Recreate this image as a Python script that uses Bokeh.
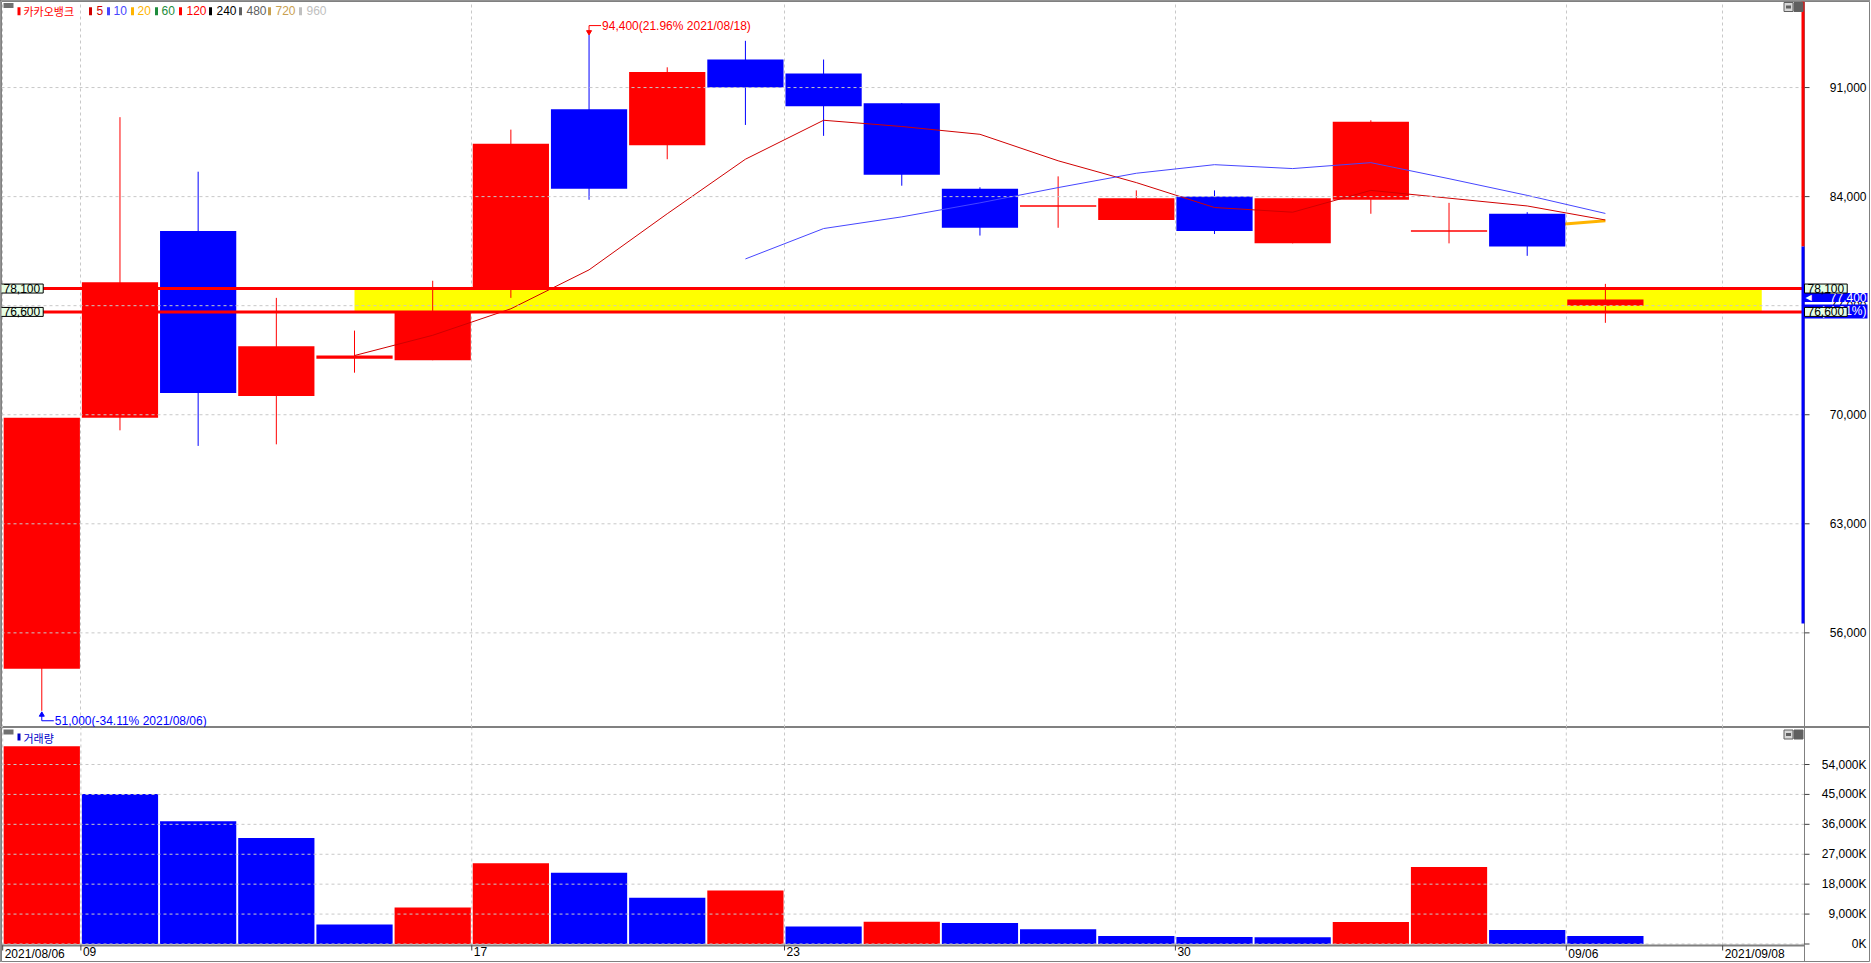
import math
from bokeh.plotting import figure
from bokeh.models import Range1d, FixedTicker, Label, Grid
from bokeh.layouts import column
from bokeh.embed import file_html
from bokeh.resources import INLINE

NAN = float("nan")

# ---------------- data ----------------
stock_name = "카카오뱅크"
volume_name = "거래량"
dates = ["2021/08/06", "2021/08/09", "2021/08/10", "2021/08/11", "2021/08/12", "2021/08/13",
         "2021/08/17", "2021/08/18", "2021/08/19", "2021/08/20", "2021/08/23", "2021/08/24",
         "2021/08/25", "2021/08/26", "2021/08/27", "2021/08/30", "2021/08/31", "2021/09/01",
         "2021/09/02", "2021/09/03", "2021/09/06"]
future_dates = ["2021/09/07", "2021/09/08"]
opens = [53700, 69800, 81800, 71200, 73600, 73500, 78100, 89600, 87300, 92800, 91900, 90000,
         84500, 83400, 82500, 84000, 81000, 83800, 81800, 82900, 77000]
highs = [69800, 89100, 85600, 77500, 75400, 78600, 88300, 94400, 92300, 94000, 92800, 90000,
         84600, 85300, 84400, 84400, 83900, 88900, 83600, 83000, 78400]
lows = [51000, 69000, 68000, 68100, 72700, 73500, 77500, 83800, 86400, 88600, 87900, 84700,
        81500, 82000, 82500, 81600, 81000, 82900, 81000, 80200, 75900]
closes = [69800, 78500, 71400, 74400, 73800, 76600, 87400, 84500, 92000, 91000, 89800, 85400,
          82000, 83400, 83900, 81800, 83900, 88800, 81800, 80800, 77400]
volumes_k = [59500, 45100, 36900, 31900, 5900, 11000, 24300, 21400, 13900, 16100, 5300, 6700,
             6300, 4400, 2400, 2100, 2000, 6600, 23200, 4200, 2400]
ma5 = [NAN, NAN, NAN, NAN, 73800, 75100, 76800, 79300, 82900, 86400, 88900, 88500, 88000,
       86300, 84900, 83300, 83000, 84400, 83900, 83400, 82500]
ma10 = [NAN] * 9 + [80000, 81950, 82700, 83600, 84580, 85500, 86050, 85800, 86180, 85150,
                    84080, 82920]
ma20 = [NAN] * 19 + [82050, 82450]
ma_periods = ["5", "10", "20", "60", "120", "240", "480", "720", "960"]
level_high = 78100
level_low = 76600
band_start = "2021/08/12"
band_end = "2021/09/08"
range_bar_low = 56600
price_ticks = [56000, 63000, 70000, 77000, 84000, 91000]
volume_ticks = [0, 9000, 18000, 27000, 36000, 45000, 54000]
date_ticks = ["2021/08/06", "2021/08/09", "2021/08/17", "2021/08/23", "2021/08/30",
              "2021/09/06", "2021/09/08"]
date_tick_labels = ["2021/08/06", "09", "17", "23", "30", "09/06", "2021/09/08"]

# ---------------- styles / layout ----------------
RED = "#ff0000"
BLUE = "#0000ff"
GRID = "#c8c8c8"
FRAME = "#808080"
TICK = "#404040"
FONT = "Liberation Sans"
KFONT = "Noto Sans CJK KR"
ma_colors = ["#d00000", "#4646ff", "#ffb400", "#1e8c3c", "#ff0000", "#000000", "#606060",
             "#c8a050", "#c0c0c0"]
legend_bar_x = [90, 108, 132, 156, 180, 210, 240, 269, 300]
legend_text_x = [96, 113, 137, 161, 186, 216, 246, 275, 306]

W = 1870          # canvas width (px)
P_H = 727         # price panel height
V_H = 235         # volume panel height (incl. date strip)
AXIS_X = 1804     # page x of the right scale line
SLOT = 78.18      # px per trading day
PX_PER_K = 15.58  # price px per 1000 won
VPX_PER_K = 3.324  # volume px per 1000K


def rx(px):
    return (px - 2.2) / SLOT - 0.5


def ry(py):
    return 91000 - (py - 87.06) / PX_PER_K * 1000


def rv(py):
    return (943.5 - py) / VPX_PER_K * 1000


X0, X1, X1E = rx(1), rx(AXIS_X), rx(W)
PY0, PY1 = ry(P_H), ry(1)
VY0, VY1 = rv(P_H + V_H), rv(P_H)
VA = rv(945)               # date axis line
dxpp = 1 / SLOT
dypp = 1000 / PX_PER_K
dvpp = 1000 / VPX_PER_K
SCALE_W = W - AXIS_X

all_dates = dates + future_dates
pos = {d: i for i, d in enumerate(all_dates)}
xi = list(range(len(dates)))
boundaries = [pos[d] - 0.5 for d in date_ticks]


def scale_axis(fig, ticks, labels, y_lo, y_hi):
    # right-hand scale: grid lines, axis line, tick marks and right aligned labels
    fig.segment(x0=[X0] * len(ticks), x1=[X1] * len(ticks), y0=ticks, y1=ticks,
                line_color=GRID, line_width=1, line_dash="3 3")
    fig.segment(x0=[X1], x1=[X1], y0=[y_lo], y1=[y_hi], line_color=FRAME, line_width=1)
    fig.segment(x0=[X1] * len(ticks), x1=[X1 + 5 * dxpp] * len(ticks), y0=ticks, y1=ticks,
                line_color=TICK, line_width=1)
    for t, lab in zip(ticks, labels):
        fig.add_layout(Label(x=X1, y=t, x_offset=SCALE_W - 4, text=lab, text_font=FONT,
                             text_font_size="12px", text_color="#000000",
                             text_baseline="middle", text_align="right"))


# ================= price panel =================
p = figure(width=W, height=P_H, x_range=Range1d(X0, X1E), y_range=Range1d(PY0, PY1),
           x_axis_location=None, y_axis_location=None, toolbar_location=None,
           output_backend="svg", min_border_left=1, min_border_right=0,
           min_border_top=1, min_border_bottom=0)
p.outline_line_color = FRAME
p.background_fill_color = "white"
p.border_fill_color = "white"
p.grid.visible = False
p.add_layout(Grid(dimension=0, ticker=FixedTicker(ticks=boundaries), grid_line_color=GRID,
                  grid_line_dash="3 3", grid_line_width=1))

# gap band
p.quad(left=pos[band_start], right=pos[band_end], bottom=level_low, top=level_high,
       fill_color="#ffff00", line_color=None)

# 20-day average below candles
p.line(list(range(len(ma20))), ma20, line_color=ma_colors[2], line_width=3)

up = [c >= o for o, c in zip(opens, closes)]
ccol = [RED if u else BLUE for u in up]
p.segment(x0=xi, y0=lows, x1=xi, y1=highs, line_color=ccol, line_width=1)
p.vbar(x=xi, width=0.975, top=[max(o, c) for o, c in zip(opens, closes)],
       bottom=[min(o, c) for o, c in zip(opens, closes)], fill_color=ccol, line_color=None)
doji = [i for i in xi if opens[i] == closes[i]]
p.segment(x0=[i - 0.4875 for i in doji], x1=[i + 0.4875 for i in doji],
          y0=[opens[i] for i in doji], y1=[closes[i] for i in doji],
          line_color=[ccol[i] for i in doji], line_width=1.5)

p.line(list(range(len(ma5))), ma5, line_color=ma_colors[0], line_width=1)
p.line(list(range(len(ma10))), ma10, line_color=ma_colors[1], line_width=1)

# horizontal level lines across the chart area
p.segment(x0=[X0, X0], x1=[X1, X1], y0=[level_high, level_low], y1=[level_high, level_low],
          line_color=RED, line_width=3)

# right-hand scale
scale_axis(p, price_ticks, [f"{t:,}" for t in price_ticks], PY0, PY1)

# price range bar on the right edge of the chart area
prev_close = closes[-2]
bx = X1 - 1.5 * dxpp
p.segment(x0=[bx, bx], x1=[bx, bx], y0=[prev_close, range_bar_low], y1=[PY1, prev_close],
          line_color=[RED, BLUE], line_width=3)

# high / low markers
last_close = closes[-1]
hi = max(highs)
hi_i = highs.index(hi)
lo = min(lows)
lo_i = lows.index(lo)
hi_pct = (hi / last_close - 1) * 100
lo_pct = (lo / last_close - 1) * 100
p.line([hi_i, hi_i, hi_i + 12 * dxpp], [hi + 1 * dypp, hi + 9 * dypp, hi + 9 * dypp],
       line_color=RED, line_width=1)
p.scatter([hi_i], [hi + 2.5 * dypp], marker="inverted_triangle", size=5, color=RED)
p.add_layout(Label(x=hi_i, y=hi, x_offset=13, y_offset=9,
                   text=f"{hi:,}({hi_pct:.2f}% {dates[hi_i]})",
                   text_font=FONT, text_font_size="12px", text_color=RED,
                   text_baseline="middle", text_align="left"))
p.line([lo_i, lo_i, lo_i + 12 * dxpp], [lo - 3 * dypp, lo - 10 * dypp, lo - 10 * dypp],
       line_color=BLUE, line_width=1)
p.scatter([lo_i], [lo - 4 * dypp], marker="triangle", size=5, color=BLUE)
p.add_layout(Label(x=lo_i, y=lo, x_offset=13, y_offset=-10,
                   text=f"{lo:,}({lo_pct:.2f}% {dates[lo_i]})",
                   text_font=FONT, text_font_size="12px", text_color=BLUE,
                   text_baseline="middle", text_align="left"))

# legend
p.rect(x=[rx(8)], y=[ry(5)], width=10, height=5, width_units="screen", height_units="screen",
       fill_color="#707070", line_color=None)
p.rect(x=[rx(18.5)] + [rx(v) for v in legend_bar_x], y=[ry(10.7)] * (1 + len(legend_bar_x)),
       width=3, height=8, width_units="screen", height_units="screen",
       fill_color=[RED] + ma_colors, line_color=None)
p.add_layout(Label(x=rx(23), y=ry(10), text=stock_name, text_font=KFONT, text_font_size="11px",
                   text_color=RED, text_baseline="middle", text_align="left"))
for name, tx, col in zip(ma_periods, legend_text_x, ma_colors):
    p.add_layout(Label(x=rx(tx), y=ry(10), text=name, text_font=FONT, text_font_size="12px",
                       text_color=col, text_baseline="middle", text_align="left"))

# panel icons (top right)
p.rect(x=[rx(1788), rx(1798)], y=[ry(6.5), ry(6.5)], width=9, height=9, width_units="screen",
       height_units="screen", fill_color=["#d8d8d8", "#606060"], line_color="#606060")
p.rect(x=[rx(1788)], y=[ry(6.5)], width=5, height=3, width_units="screen",
       height_units="screen", fill_color="#606060", line_color=None)

# current price tag and level labels (left and right); padding = (left, right, top, bottom)
chg = (last_close / prev_close - 1) * 100
p.add_layout(Label(x=X1, y=last_close, x_offset=SCALE_W - 3, y_offset=2, text=f"{last_close:,}",
                   text_font=FONT, text_font_size="12px", text_color="white",
                   text_baseline="middle", text_align="right", background_fill_color=BLUE,
                   padding=(26, 1, 0, 0)))
p.add_layout(Label(x=X1, y=last_close, x_offset=SCALE_W - 3, y_offset=-12, text=f"({chg:.2f}%)",
                   text_font=FONT, text_font_size="12px", text_color="white",
                   text_baseline="middle", text_align="right", background_fill_color=BLUE,
                   padding=(17, 1, 0, 0)))
p.add_layout(Label(x=X1, y=last_close, x_offset=1, y_offset=2, text="◀",
                   text_font="DejaVu Sans", text_font_size="8px", text_color="white",
                   text_baseline="middle", text_align="left"))
for lv in (level_high, level_low):
    for xx, off in ((X0, -1), (X1, 0)):
        p.add_layout(Label(x=xx, y=lv, x_offset=off, text=f"{lv:,}", text_font=FONT,
                           text_font_size="12px", text_color="#000000", text_baseline="middle",
                           text_align="left", background_fill_color="#e6ffe6",
                           border_line_color="#000000", border_line_width=1,
                           padding=(3, 3, 0, 0)))

# ================= volume panel =================
v = figure(width=W, height=V_H, x_range=p.x_range, y_range=Range1d(VY0, VY1),
           x_axis_location=None, y_axis_location=None, toolbar_location=None,
           output_backend="svg", min_border_left=1, min_border_right=0,
           min_border_top=0, min_border_bottom=0)
v.outline_line_color = FRAME
v.background_fill_color = "white"
v.border_fill_color = "white"
v.grid.visible = False

# vertical dashed grid lines down to the date axis
v.segment(x0=boundaries, x1=boundaries, y0=[VA] * len(boundaries), y1=[VY1] * len(boundaries),
          line_color=GRID, line_width=1, line_dash="3 3")

vcol = [RED if (i == 0 or volumes_k[i] > volumes_k[i - 1]) else BLUE for i in xi]
v.vbar(x=xi, width=0.975, top=volumes_k, bottom=0, fill_color=vcol, line_color=None)

scale_axis(v, volume_ticks, [f"{t:,}K" for t in volume_ticks], VY0, VY1)

# date axis: line, tick marks at day boundaries, labels to the right of each tick
v.segment(x0=[X0], x1=[X1], y0=[VA], y1=[VA], line_color=FRAME, line_width=2)
v.segment(x0=boundaries, x1=boundaries, y0=[VA] * len(boundaries),
          y1=[VA - 5 * dvpp] * len(boundaries), line_color=TICK, line_width=1)
for b, lab in zip(boundaries, date_tick_labels):
    v.add_layout(Label(x=b, y=VA, x_offset=2, y_offset=-1, text=lab, text_font=FONT,
                       text_font_size="12px", text_color="#000000", text_baseline="top",
                       text_align="left"))

v.rect(x=[rx(8)], y=[rv(731.5)], width=10, height=5, width_units="screen", height_units="screen",
       fill_color="#707070", line_color=None)
v.rect(x=[rx(18.5)], y=[rv(736.5)], width=3, height=7, width_units="screen",
       height_units="screen", fill_color="#0000c8", line_color=None)
v.add_layout(Label(x=rx(23), y=rv(737), text=volume_name, text_font=KFONT, text_font_size="11px",
                   text_color="#0000c8", text_baseline="middle", text_align="left"))
v.rect(x=[rx(1788), rx(1798)], y=[rv(734), rv(734)], width=9, height=9, width_units="screen",
       height_units="screen", fill_color=["#d8d8d8", "#606060"], line_color="#606060")
v.rect(x=[rx(1788)], y=[rv(734)], width=5, height=3, width_units="screen",
       height_units="screen", fill_color="#606060", line_color=None)

layout = column(p, v, spacing=0)
layout.styles = {"outline": "1px solid #6e6e6e", "outline-offset": "-1px"}

open("out.html", "w").write(file_html(layout, INLINE))
